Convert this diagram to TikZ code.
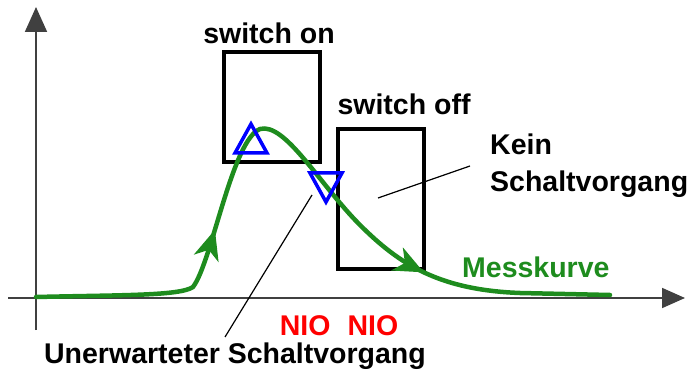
\documentclass[tikz,border=0pt]{standalone}
\usepackage{fontspec}
\setmainfont{Liberation Sans}
\usetikzlibrary{arrows.meta,decorations.markings}
\definecolor{curvegreen}{RGB}{30,140,30}
\tikzset{
  lbl/.style={font=\bfseries\fontsize{28.5}{37}\selectfont, inner sep=0pt},
  boxframe/.style={draw=black, line width=4pt},
  axisline/.style={draw=black!75, line width=1.8pt},
  leader/.style={draw=black, line width=1.2pt},
  tri/.style={draw=blue, line width=3.5pt, line join=miter},
  curve/.style={draw=curvegreen, line width=4.5pt, line cap=round, line join=round},
  greenhead/.style={curvegreen},
}
\newcommand{\ghead}{\fill[greenhead] (4,0) -- (-26,13) -- (-17,0) -- (-26,-13) -- cycle;}
\begin{document}
\begin{tikzpicture}[x=1pt,y=1pt]
\useasboundingbox (0,0) rectangle (700,-379);
% axes
\coordinate (yb) at (36,-330);
\coordinate (yt) at (36,-7);
\coordinate (xl) at (8,-298);
\coordinate (xr) at (685,-298);
\draw[axisline,-{Triangle[length=25pt,width=22pt]}] (yb) -- (yt);
\draw[axisline,-{Triangle[length=23pt,width=20pt]}] (xl) -- (xr);
% boxes
\node[boxframe, minimum width=96pt, minimum height=110pt, anchor=north west, inner sep=0pt] (onbox) at (222,-50) {};
\node[boxframe, minimum width=86pt, minimum height=140pt, anchor=north west, inner sep=0pt] (offbox) at (336,-127) {};
\node[lbl] (onlbl) at (269,-33) {switch on};
\node[lbl] (offlbl) at (404,-104) {switch off};
% curve
\draw[curve, postaction={decorate}, decoration={markings,
   mark=at position 0.29 with {\ghead},
   mark=at position 0.74 with {\ghead}}]
  (36,-297) .. controls (120,-295) and (180,-296) .. (193,-287)
  .. controls (212,-262) and (232,-140) .. (260,-129)
  .. controls (285,-122) and (320,-185) .. (360,-225)
  .. controls (400,-265) and (440,-290) .. (520,-293)
  -- (610,-295);
% triangles
\coordinate (t1a) at (235,-153);
\coordinate (t1b) at (267,-153);
\coordinate (t1c) at (251,-124);
\draw[tri] (t1a) -- (t1b) -- (t1c) -- cycle;
\coordinate (t2a) at (310,-173);
\coordinate (t2b) at (342,-173);
\coordinate (t2c) at (326,-202);
\draw[tri] (t2a) -- (t2b) -- (t2c) -- cycle;
% labels
\node[lbl, anchor=west, align=left] (kein) at (490,-166) {Kein\\Schaltvorgang};
\coordinate (keinend) at (378,-198);
\coordinate (keinstart) at (470,-166);
\draw[leader] (keinstart) -- (keinend);
\node[lbl] (unerw) at (235,-356) {Unerwarteter Schaltvorgang};
\coordinate (u1) at (225,-337);
\coordinate (u2) at (312,-195);
\draw[leader] (u1) -- (u2);
\node[lbl, text=red] (nio) at (339,-326) {NIO\hspace{0.6em}NIO};
\node[lbl, text=curvegreen, anchor=west] (mess) at (462,-267) {Messkurve};
\end{tikzpicture}
\end{document}
